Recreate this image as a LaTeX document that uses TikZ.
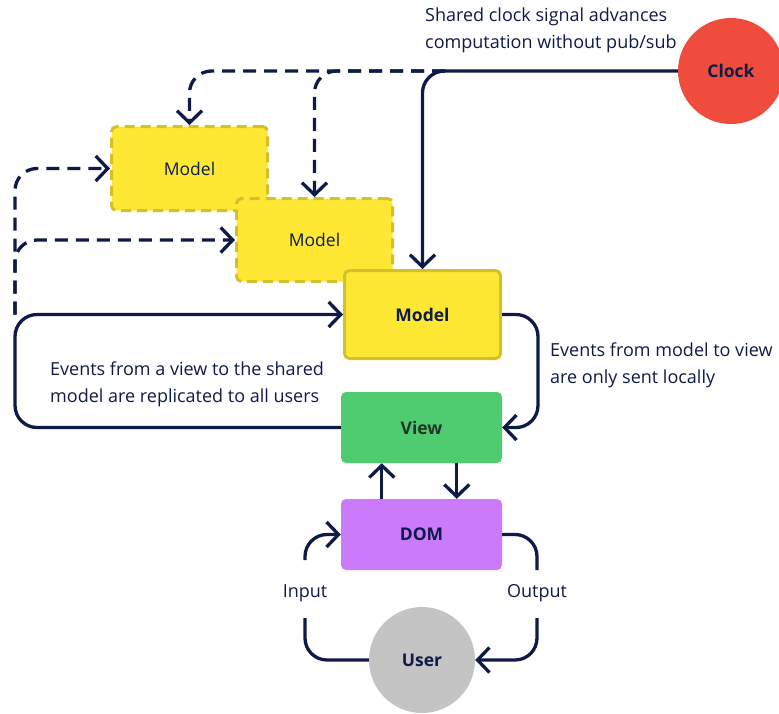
\documentclass[tikz,border=0pt]{standalone}
\usepackage{fontspec}
\setmainfont{Open Sans}
\usetikzlibrary{arrows.meta}
\definecolor{ink}{RGB}{14,26,72}
\definecolor{modelfill}{RGB}{255,232,52}
\definecolor{modeledge}{RGB}{212,192,42}
\definecolor{viewfill}{RGB}{80,204,112}
\definecolor{viewtext}{RGB}{36,52,44}
\definecolor{domfill}{RGB}{202,122,250}
\definecolor{clockfill}{RGB}{239,76,62}
\definecolor{userfill}{RGB}{196,196,196}
\tikzset{
  box/.style={rounded corners=5pt, minimum width=159pt, inner sep=0pt, font=\fontsize{17.5}{20}\selectfont\bfseries},
  modelbox/.style={box, fill=modelfill, draw=modeledge, line width=3pt, minimum width=156pt},
  shadowbox/.style={modelbox, dash pattern=on 10pt off 6pt},
  roundnode/.style={circle, minimum size=106pt, inner sep=0pt, font=\fontsize{17.5}{20}\selectfont\bfseries, text=ink},
  wire/.style={draw=ink, line width=3.3pt, rounded corners=22pt},
  dwire/.style={wire, dash pattern=on 13pt off 8pt},
  headed/.style={-{Straight Barb[length=12pt,width=25pt]}},
  note/.style={align=left, anchor=west, inner sep=0pt, text=ink, font=\fontsize{18}{27}\selectfont},
  lbl/.style={inner sep=0pt, text=ink, font=\fontsize{18}{20}\selectfont}
}
\begin{document}
\begin{tikzpicture}[x=1pt,y=-1pt]
\useasboundingbox (0,0) rectangle (779,713);

% the three model replicas, back to front
\node[shadowbox, minimum height=84pt, text=ink] (m1) at (189.5,168.5) {\fontseries{m}\selectfont Model};
\node[shadowbox, minimum height=83pt, text=ink] (m2) at (314.5,240) {\fontseries{m}\selectfont Model};
\node[modelbox, minimum height=88pt, text=ink] (m3) at (422.5,314.5) {Model};

\node[box, fill=viewfill, minimum height=71pt, minimum width=161pt, text=viewtext] (view) at (421.5,427.5) {View};
\node[box, fill=domfill, minimum height=71pt, minimum width=161pt, text=ink] (dom) at (421.5,534.5) {DOM};

\node[roundnode, fill=clockfill] (clock) at (731,71) {Clock};
\node[roundnode, fill=userfill] (user) at (422,660) {User};

% clock signal
\coordinate (cj) at (445,71);
\draw[dwire, headed] (cj) -| (m1.north);
\draw[dwire, headed] (cj) -| (m2.north);
\draw[wire, headed] (clock.west) -| (m3.north);

% view events replicated to every model
\coordinate (lft) at (15,314.5);
\draw[dwire, headed] (lft) |- (m1.west);
\draw[dwire, headed] (lft) |- (m2.west);
\draw[wire, headed] (view.west) -| (lft) -- (m3.west);

% local model to view
\coordinate (mr) at (538,314.5);
\draw[wire, headed] (m3.east) -- (mr) |- (view.east);

% view <-> DOM
\draw[wire, headed] ([xshift=41pt]dom.north west) -- ([xshift=41pt]view.south west);
\draw[wire, headed] ([xshift=116pt]view.south west) -- ([xshift=116pt]dom.north west);

% input and output loops through the user
\coordinate (inlo) at (305,618);
\coordinate (inhi) at (305,560);
\coordinate (outhi) at (537,570);
\coordinate (outlo) at (537,618);
\draw[wire] (user.west) -| (inlo);
\draw[wire, headed] (inhi) |- (dom.west);
\draw[wire] (dom.east) -| (outhi);
\draw[wire, headed] (outlo) |- (user.east);
\node[lbl] (inlbl) at (305,593) {Input};
\node[lbl] (outlbl) at (537,593) {Output};

% annotations
\node[note] (n1) at (425,30.5) {Shared clock signal advances\\computation without pub/sub};
\node[note] (n2) at (50,384.5) {Events from a view to the shared\\model are replicated to all users};
\node[note] (n3) at (550,365.5) {Events from model to view\\are only sent locally};
\end{tikzpicture}
\end{document}
